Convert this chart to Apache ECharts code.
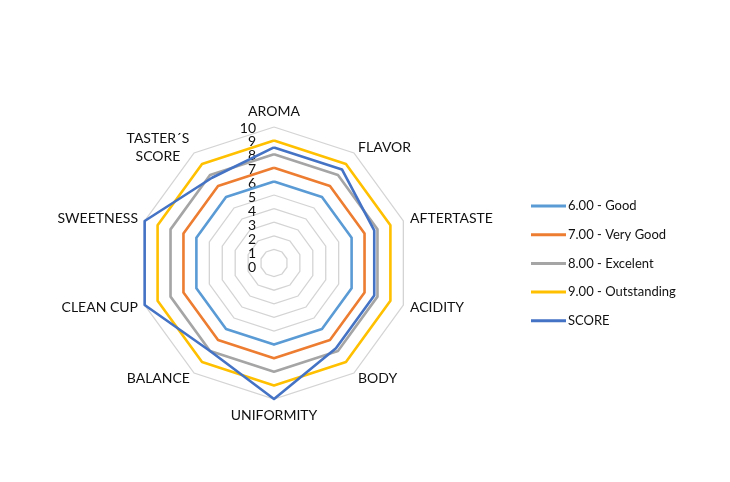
<!DOCTYPE html>
<html>
<head>
<meta charset="utf-8">
<script src="https://cdn.jsdelivr.net/npm/echarts@6/dist/echarts.min.js"></script>
<style>html,body{margin:0;padding:0;background:#fff}#c{width:730px;height:482px}</style>
</head>
<body>
<div id="c"></div>
<script>
// Categories in clockwise visual order starting at top
const categories = ['AROMA', 'FLAVOR', 'AFTERTASTE', 'ACIDITY', 'BODY', 'UNIFORMITY', 'BALANCE', 'CLEAN CUP', 'SWEETNESS', 'TASTER´S\nSCORE'];
const seriesNames = ['6.00 - Good', '7.00 - Very Good', '8.00 - Excelent', '9.00 - Outstanding', 'SCORE'];
const good        = [6, 6, 6, 6, 6, 6, 6, 6, 6, 6];
const veryGood    = [7, 7, 7, 7, 7, 7, 7, 7, 7, 7];
const excelent    = [8, 8, 8, 8, 8, 8, 8, 8, 8, 8];
const outstanding = [9, 9, 9, 9, 9, 9, 9, 9, 9, 9];
const score       = [8.5, 8.5, 7.75, 7.75, 7.75, 10, 8, 10, 10, 7.75];
const tickLabels  = ['0', '1', '2', '3', '4', '5', '6', '7', '8', '9', '10'];
const colors = ['#5B9BD5', '#ED7D31', '#A5A5A5', '#FFC000', '#4472C4'];

// ECharts radar places indicators counter-clockwise; reorder to get clockwise layout
const order = [0, 9, 8, 7, 6, 5, 4, 3, 2, 1];
const reorder = arr => order.map(i => arr[i]);
const allSeries = [good, veryGood, excelent, outstanding, score];

const FONT = 'Lato';
const chart = echarts.init(document.getElementById('c'), null, {renderer: 'canvas'});
chart.setOption({
  backgroundColor: '#fff',
  animation: false,
  legend: {
    orient: 'vertical',
    left: 526,
    top: 193,
    icon: 'rect',
    itemWidth: 35,
    itemHeight: 3,
    itemGap: 12.7,
    textStyle: {fontFamily: FONT, fontSize: 13, color: '#111', lineHeight: 16, padding: [0, 0, 0, -3]},
    data: seriesNames
  },
  grid: {left: 258, top: 128, width: 1, height: 139},
  xAxis: {type: 'value', show: false},
  yAxis: {
    type: 'value', min: 0, max: 10, interval: 1,
    axisLine: {show: false}, axisTick: {show: false}, splitLine: {show: false},
    axisLabel: {margin: 2, fontFamily: FONT, fontSize: 14, lineHeight: 12, color: '#111',
      showMinLabel: true, showMaxLabel: true, hideOverlap: false, interval: 0,
      formatter: v => tickLabels[Math.round(v)]}
  },
  radar: {
    center: [274, 263],
    radius: 136,
    startAngle: 90,
    splitNumber: 10,
    shape: 'polygon',
    nameGap: 7,
    axisName: {
      color: '#111', fontFamily: FONT, fontSize: 14, lineHeight: 18,
      formatter: n => n.indexOf('\n') >= 0 ? n.split('\n').map(s => '{c|' + s + '}').join('\n') : n,
      rich: {c: {width: 64, align: 'center', fontFamily: FONT, fontSize: 14, color: '#111', lineHeight: 18}}
    },
    axisLine: {show: false},
    axisTick: {show: false},
    axisLabel: {show: false},
    splitArea: {show: false},
    splitLine: {lineStyle: {color: '#d4d4d4', width: 1.3}},
    indicator: reorder(categories).map(n => ({name: n, min: 0, max: 10}))
  },
  series: [{
    type: 'radar',
    symbol: 'none',
    data: allSeries.map((arr, i) => ({
      name: seriesNames[i],
      value: reorder(arr),
      itemStyle: {color: colors[i]},
      lineStyle: {color: colors[i], width: 2.6}
    }))
  }]
});
</script>
</body>
</html>
